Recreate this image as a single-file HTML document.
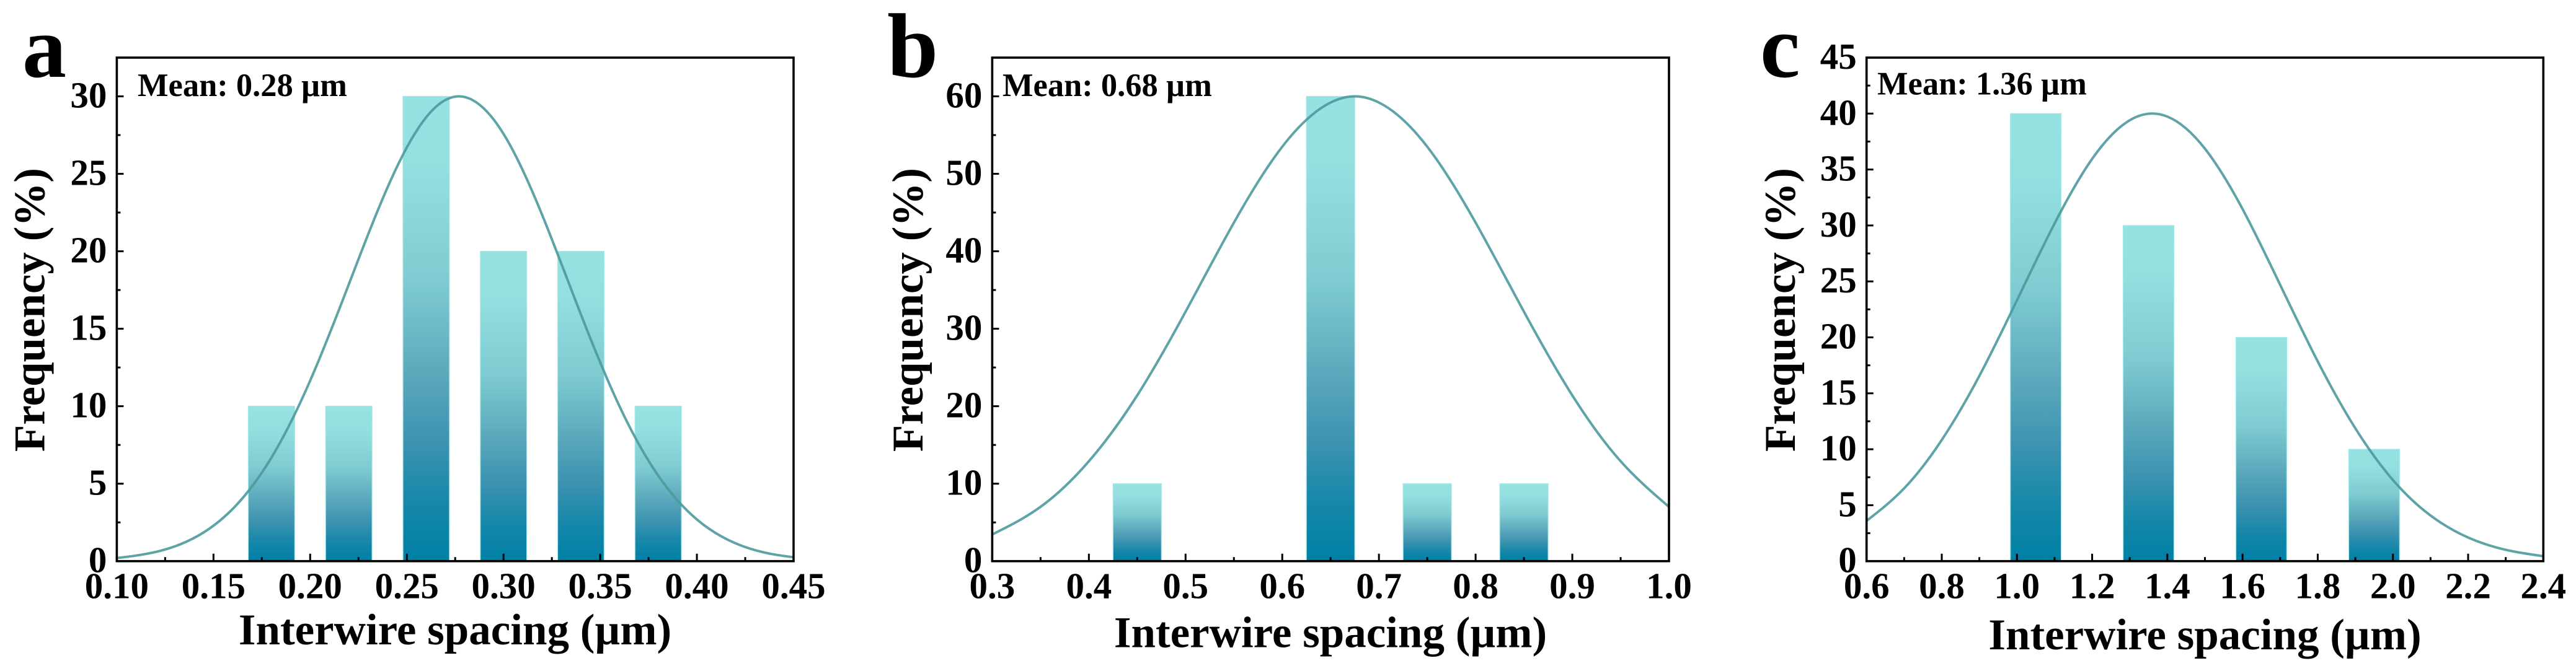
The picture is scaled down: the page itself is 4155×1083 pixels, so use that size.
<!DOCTYPE html>
<html lang="en">
<head>
<meta charset="utf-8">
<title>Interwire spacing histograms</title>
<style>
html,body{margin:0;padding:0;background:#fff;}
svg{display:block;}
text{font-family:"Liberation Serif","Times New Roman",serif;font-weight:bold;fill:#000;}
.tick-label{font-size:59px;}
.axis-title{font-size:71px;}
.mean-label{font-size:52.5px;}
.panel-letter{font-size:148px;}
</style>
</head>
<body>
<svg id="figure" xmlns="http://www.w3.org/2000/svg" width="4155" height="1083" viewBox="0 0 4155 1083">
  <defs>
    <linearGradient id="barFill" x1="0" y1="0" x2="0" y2="1">
      <stop offset="0" stop-color="#96e2e2"/>
      <stop offset="0.15" stop-color="#94dfe0"/>
      <stop offset="0.4" stop-color="#7ecbd1"/>
      <stop offset="0.6" stop-color="#5ba8bc"/>
      <stop offset="0.75" stop-color="#3b92b0"/>
      <stop offset="0.88" stop-color="#1587a9"/>
      <stop offset="1" stop-color="#0080a6"/>
    </linearGradient>
  </defs>
  <rect x="0" y="0" width="4155" height="1083" fill="#fff"/>

  <g id="panel-a">
    <g class="marks"></g>
    <text class="panel-letter" x="36" y="124" style="font-size:142px">a</text>
    <text class="mean-label" x="222" y="155">Mean: 0.28 µm</text>
    <text class="axis-title" x="734" y="1040" text-anchor="middle">Interwire spacing (µm)</text>
    <text class="axis-title" transform="translate(71.5 500) rotate(-90)" text-anchor="middle">Frequency (%)</text>
  </g>

  <g id="panel-b">
    <g class="marks"></g>
    <text class="panel-letter" x="1431" y="124">b</text>
    <text class="mean-label" x="1617" y="155">Mean: 0.68 µm</text>
    <text class="axis-title" x="2146" y="1044.5" text-anchor="middle">Interwire spacing (µm)</text>
    <text class="axis-title" transform="translate(1488 500) rotate(-90)" text-anchor="middle">Frequency (%)</text>
  </g>

  <g id="panel-c">
    <g class="marks"></g>
    <text class="panel-letter" x="2839" y="124" style="font-size:145px">c</text>
    <text class="mean-label" x="3028" y="152.7">Mean: 1.36 µm</text>
    <text class="axis-title" x="3556.5" y="1048" text-anchor="middle">Interwire spacing (µm)</text>
    <text class="axis-title" transform="translate(2895 500) rotate(-90)" text-anchor="middle">Frequency (%)</text>
  </g>
</svg>

<script>
/* Panel a data */
var aCategories = [0.18, 0.22, 0.26, 0.30, 0.34, 0.38];
var aValues = [10, 10, 30, 20, 20, 10];
var aBarWidth = [0.024];
var aCurveX = [0.10, 0.12, 0.14, 0.16, 0.18, 0.20, 0.22, 0.24, 0.26, 0.277, 0.30, 0.32, 0.34, 0.36, 0.38, 0.40, 0.42, 0.44, 0.45];
var aCurveY = [0.20, 0.59, 1.50, 3.38, 6.69, 11.65, 17.87, 24.12, 28.65, 30, 27.58, 22.34, 15.93, 9.99, 5.52, 2.69, 1.15, 0.43, 0.25];
var aXTicks = ["0.10", "0.15", "0.20", "0.25", "0.30", "0.35", "0.40", "0.45"];
var aYTicks = ["0", "5", "10", "15", "20", "25", "30"];

/* Panel b data */
var bCategories = [0.45, 0.65, 0.75, 0.85];
var bValues = [10, 60, 10, 10];
var bBarWidth = [0.05];
var bCurveX = [0.30, 0.35, 0.40, 0.45, 0.50, 0.55, 0.60, 0.65, 0.675, 0.70, 0.75, 0.80, 0.85, 0.90, 0.95, 1.00];
var bCurveY = [3.44, 7.01, 12.9, 21.4, 32.2, 43.7, 53.5, 59.2, 60, 59.2, 53.5, 43.7, 32.2, 21.4, 12.9, 7.01];
var bXTicks = ["0.3", "0.4", "0.5", "0.6", "0.7", "0.8", "0.9", "1.0"];
var bYTicks = ["0", "10", "20", "30", "40", "50", "60"];

/* Panel c data */
var cCategories = [1.05, 1.35, 1.65, 1.95];
var cValues = [40, 30, 20, 10];
var cBarWidth = [0.135];
var cCurveX = [0.6, 0.7, 0.8, 0.9, 1.0, 1.1, 1.2, 1.3, 1.36, 1.4, 1.5, 1.6, 1.7, 1.8, 1.9, 2.0, 2.1, 2.2, 2.3, 2.4];
var cCurveY = [3.60, 6.51, 10.83, 16.56, 23.31, 30.17, 35.95, 39.4, 40, 39.73, 36.86, 31.47, 24.7, 17.85, 11.87, 7.25, 4.08, 2.11, 1.01, 0.44];
var cXTicks = ["0.6", "0.8", "1.0", "1.2", "1.4", "1.6", "1.8", "2.0", "2.2", "2.4"];
var cYTicks = ["0", "5", "10", "15", "20", "25", "30", "35", "40", "45"];

var SVG_NS = "http://www.w3.org/2000/svg";

function make(parent, tag, attrs) {
  var el = document.createElementNS(SVG_NS, tag);
  for (var k in attrs) { el.setAttribute(k, attrs[k]); }
  parent.appendChild(el);
  return el;
}

/* Natural cubic spline through the read points, emitted as Bezier segments. */
function curvePath(xs, ys, sx, sy) {
  var n = xs.length, h = [], i;
  for (i = 0; i < n - 1; i++) { h.push(xs[i + 1] - xs[i]); }
  var c = [0], d = [0], M = new Array(n).fill(0);
  for (i = 1; i < n - 1; i++) {
    var a = h[i - 1], b = 2 * (h[i - 1] + h[i]), cc = h[i];
    var r = 6 * ((ys[i + 1] - ys[i]) / h[i] - (ys[i] - ys[i - 1]) / h[i - 1]);
    var den = b - a * c[i - 1];
    c.push(cc / den);
    d.push((r - a * d[i - 1]) / den);
  }
  for (i = n - 2; i >= 1; i--) { M[i] = d[i] - c[i] * M[i + 1]; }
  var path = "M" + sx(xs[0]).toFixed(2) + " " + sy(ys[0]).toFixed(2);
  for (i = 0; i < n - 1; i++) {
    var hi = h[i], s = (ys[i + 1] - ys[i]) / hi;
    var m0 = s - hi * (2 * M[i] + M[i + 1]) / 6;
    var m1 = s + hi * (M[i] + 2 * M[i + 1]) / 6;
    path += "C" + sx(xs[i] + hi / 3).toFixed(2) + " " + sy(ys[i] + m0 * hi / 3).toFixed(2) +
            " " + sx(xs[i + 1] - hi / 3).toFixed(2) + " " + sy(ys[i + 1] - m1 * hi / 3).toFixed(2) +
            " " + sx(xs[i + 1]).toFixed(2) + " " + sy(ys[i + 1]).toFixed(2);
  }
  return path;
}

function drawPanel(cfg) {
  var root = document.querySelector("#panel-" + cfg.id + " .marks");
  var xMin = Number(cfg.xTicks[0]), xMax = Number(cfg.xTicks[cfg.xTicks.length - 1]);
  var sx = function (v) { return cfg.left + (v - xMin) / (xMax - xMin) * (cfg.right - cfg.left); };
  var sy = function (v) { return cfg.bottom - v / cfg.yMax * (cfg.bottom - cfg.top); };

  /* bars */
  cfg.categories.forEach(function (c, i) {
    var bar = make(root, "rect", {
      x: sx(c - cfg.barWidth[0] / 2), y: sy(cfg.values[i]),
      width: sx(c + cfg.barWidth[0] / 2) - sx(c - cfg.barWidth[0] / 2),
      height: cfg.bottom - sy(cfg.values[i]),
      fill: "url(#barFill)", stroke: "#a6e6e6", "stroke-width": 1.2
    });
    
    
  });

  /* fit curve */
  var curve = make(root, "path", {
    d: curvePath(cfg.curveX, cfg.curveY, sx, sy),
    fill: "none", stroke: "#4c9a9c", "stroke-width": 4, "stroke-opacity": 0.9
  });
  
  

  /* x ticks */
  cfg.xTicks.forEach(function (t, i) {
    var v = Number(t), x = sx(v);
    var tick = make(root, "line", { x1: x, x2: x, y1: cfg.bottom, y2: cfg.bottom - 12, stroke: "#000", "stroke-width": 3 });
    
    
    var label = make(root, "text", { x: x, y: 965.7, "text-anchor": "middle", "class": "tick-label" });
    label.textContent = t;
    
    
    if (i < cfg.xTicks.length - 1) {
      var mx = sx((v + Number(cfg.xTicks[i + 1])) / 2);
      var minor = make(root, "line", { x1: mx, x2: mx, y1: cfg.bottom, y2: cfg.bottom - 6.5, stroke: "#000", "stroke-width": 3 });
      
      
    }
  });

  /* y ticks */
  cfg.yTicks.forEach(function (t, i) {
    var v = Number(t), y = sy(v);
    var tick = make(root, "line", { x1: cfg.left, x2: cfg.left + 11, y1: y, y2: y, stroke: "#000", "stroke-width": 3 });
    
    
    var label = make(root, "text", { x: cfg.left - 16, y: y + 18, "text-anchor": "end", "class": "tick-label" });
    label.textContent = t;
    
    
    if (i < cfg.yTicks.length - 1) {
      var my = sy((v + Number(cfg.yTicks[i + 1])) / 2);
      var minor = make(root, "line", { x1: cfg.left, x2: cfg.left + 6, y1: my, y2: my, stroke: "#000", "stroke-width": 3 });
      
      
    }
  });

  /* frame */
  var frame = make(root, "rect", {
    x: cfg.left, y: cfg.top, width: cfg.right - cfg.left, height: cfg.bottom - cfg.top,
    fill: "none", stroke: "#000", "stroke-width": 3.6
  });
  
  
}

drawPanel({ id: "a", left: 188.4, right: 1280, top: 93, bottom: 905.7, yMax: 32.5,
  categories: aCategories, values: aValues, barWidth: aBarWidth, curveX: aCurveX, curveY: aCurveY, xTicks: aXTicks, yTicks: aYTicks });
drawPanel({ id: "b", left: 1600.4, right: 2692, top: 93, bottom: 905.7, yMax: 65,
  categories: bCategories, values: bValues, barWidth: bBarWidth, curveX: bCurveX, curveY: bCurveY, xTicks: bXTicks, yTicks: bYTicks });
drawPanel({ id: "c", left: 3010.7, right: 4102.3, top: 93, bottom: 905.7, yMax: 45,
  categories: cCategories, values: cValues, barWidth: cBarWidth, curveX: cCurveX, curveY: cCurveY, xTicks: cXTicks, yTicks: cYTicks });
</script>
</body>
</html>
